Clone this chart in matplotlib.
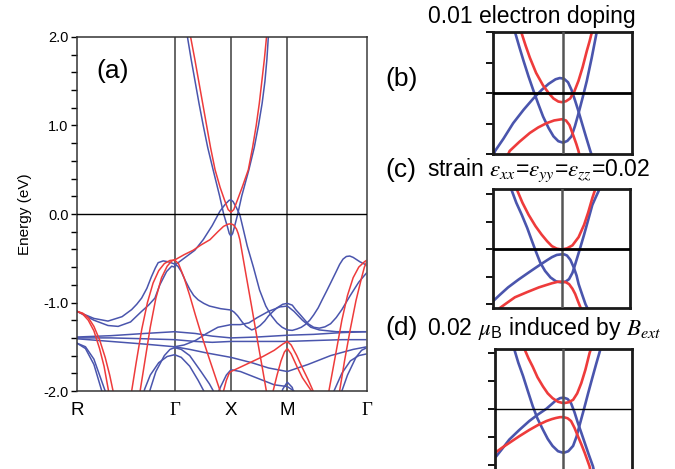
import matplotlib
matplotlib.use('Agg')
import matplotlib.pyplot as plt

plt.rcParams['font.family'] = ['Liberation Sans', 'DejaVu Sans']
plt.rcParams['mathtext.fontset'] = 'stix'

RED = '#ee3b3b'
BLUE = '#4a55ad'

# ---------------- panel (a) : path and ticks ----------------
k_ticks = [0.0, 1.732, 2.732, 3.732, 5.146]
k_labels = ['R', 'Γ', 'X', 'M', 'Γ']
y_ticks = [-2.0, -1.0, 0.0, 1.0, 2.0]
y_tick_labels = ['-2.0', '-1.0', '0.0', '1.0', '2.0']

# ---------------- panel (a) : red bands (k, E) ----------------
red_R1 = [(0, -1.10), (0.1, -1.13), (0.2, -1.20), (0.3, -1.32), (0.4, -1.52), (0.48, -1.72), (0.56, -2.0), (0.6, -2.15)]
red_R2 = [(0, -1.10), (0.1, -1.12), (0.2, -1.17), (0.3, -1.27), (0.4, -1.42), (0.5, -1.62), (0.58, -1.82), (0.64, -2.0), (0.67, -2.1)]
red_RG1 = [(0.94, -2.1), (0.97, -2.0), (1.05, -1.68), (1.15, -1.30), (1.25, -1.0), (1.35, -0.78), (1.45, -0.64), (1.55, -0.56),
           (1.65, -0.525), (1.732, -0.52)]
red_RG2 = [(1.10, -2.1), (1.12, -2.0), (1.2, -1.68), (1.3, -1.28), (1.4, -0.95), (1.5, -0.72), (1.6, -0.59), (1.68, -0.53), (1.732, -0.52)]
red_val = [(1.732, -0.52), (1.9, -0.46), (2.06, -0.41), (2.2, -0.35), (2.36, -0.29), (2.5, -0.20), (2.6, -0.14),
           (2.68, -0.115), (2.732, -0.11), (2.78, -0.125), (2.83, -0.17), (2.86, -0.22), (2.89, -0.29), (3.0, -0.69),
           (3.1, -1.05), (3.2, -1.42), (3.3, -1.78), (3.36, -2.0), (3.39, -2.1)]
red_GX = [(1.732, -0.52), (1.8, -0.56), (1.9, -0.72), (2.0, -0.92), (2.1, -1.14), (2.2, -1.35), (2.35, -1.64), (2.54, -2.0), (2.59, -2.1)]
red_cond = [(1.98, 2.1), (2.016, 2.0), (2.09, 1.75), (2.16, 1.5), (2.23, 1.25), (2.30, 1.0), (2.37, 0.75), (2.45, 0.5),
            (2.54, 0.3), (2.622, 0.15), (2.682, 0.05), (2.732, 0.02), (2.782, 0.05), (2.842, 0.15), (2.93, 0.3), (3.04, 0.5),
            (3.115, 0.75), (3.18, 1.0), (3.235, 1.25), (3.28, 1.5), (3.325, 1.75), (3.363, 2.0), (3.38, 2.1)]
red_XM = [(2.56, -2.1), (2.6, -2.0), (2.65, -1.88), (2.7, -1.80), (2.732, -1.78), (2.9, -1.73), (3.1, -1.67), (3.3, -1.61),
          (3.5, -1.54), (3.65, -1.47), (3.732, -1.44), (3.8, -1.48), (3.9, -1.60), (4.0, -1.74), (4.1, -1.87), (4.19, -2.0), (4.22, -2.1)]
red_M = [(3.45, -2.1), (3.48, -2.0), (3.55, -1.82), (3.62, -1.66), (3.68, -1.56), (3.732, -1.52), (3.8, -1.58), (3.9, -1.72),
         (4.0, -1.85), (4.16, -2.0), (4.2, -2.1)]
red_MG1 = [(4.44, -2.1), (4.47, -2.0), (4.6, -1.55), (4.7, -1.20), (4.8, -0.92), (4.9, -0.72), (5.0, -0.60), (5.1, -0.54), (5.146, -0.52)]
red_MG2 = [(4.63, -2.1), (4.66, -2.0), (4.75, -1.65), (4.85, -1.30), (4.95, -0.98), (5.05, -0.72), (5.1, -0.60), (5.146, -0.53)]

# ---------------- panel (a) : blue bands (k, E) ----------------
blue_RA = [(0, -1.10), (0.3, -1.18), (0.55, -1.21), (0.8, -1.16), (0.97, -1.08), (1.06, -1.02), (1.147, -0.95), (1.24, -0.84),
           (1.32, -0.71), (1.39, -0.61), (1.44, -0.55), (1.53, -0.53), (1.62, -0.54), (1.732, -0.565)]
blue_RB = [(0, -1.10), (0.3, -1.20), (0.55, -1.26), (0.73, -1.27), (0.95, -1.22), (1.147, -1.10), (1.27, -1.03), (1.383, -0.95),
           (1.47, -0.80), (1.59, -0.65), (1.68, -0.59), (1.732, -0.60)]
blue_Rd1 = [(0, -1.46), (0.15, -1.52), (0.3, -1.70), (0.44, -2.0), (0.47, -2.1)]
blue_Rd2 = [(0, -1.46), (0.15, -1.50), (0.3, -1.64), (0.4, -1.82), (0.50, -2.0), (0.53, -2.1)]
blue_val = [(1.732, -0.58), (1.9, -0.50), (2.09, -0.41), (2.24, -0.29), (2.4, -0.13), (2.535, 0.03), (2.63, 0.11), (2.70, 0.155),
            (2.732, 0.16), (2.77, 0.14), (2.83, 0.07), (2.89, -0.01), (2.95, -0.17), (3.02, -0.36), (3.13, -0.60), (3.24, -0.86),
            (3.35, -1.04), (3.45, -1.15), (3.55, -1.23), (3.64, -1.28), (3.732, -1.31), (3.82, -1.315), (3.9, -1.30), (3.98, -1.28),
            (4.05, -1.25), (4.13, -1.20), (4.2, -1.14), (4.28, -1.06), (4.35, -0.97), (4.43, -0.87), (4.5, -0.78), (4.6, -0.65),
            (4.66, -0.57), (4.72, -0.51), (4.78, -0.48), (4.84, -0.475), (4.9, -0.49), (5.02, -0.54), (5.146, -0.58)]
blue_cond = [(1.945, 2.1), (1.96, 2.0), (2.025, 1.75), (2.095, 1.5), (2.165, 1.25), (2.24, 1.0), (2.32, 0.75), (2.415, 0.5),
             (2.532, 0.2), (2.602, 0.0), (2.672, -0.15), (2.702, -0.22), (2.732, -0.25), (2.762, -0.22), (2.792, -0.15),
             (2.852, 0.0), (2.922, 0.2), (3.05, 0.5), (3.145, 0.75), (3.22, 1.0), (3.285, 1.25), (3.335, 1.5), (3.37, 1.75),
             (3.395, 2.0), (3.405, 2.1)]
blue_GXM = [(1.732, -0.57), (1.79, -0.59), (1.85, -0.65), (1.92, -0.75), (2.0, -0.85), (2.07, -0.92), (2.15, -0.97), (2.25, -1.01),
            (2.35, -1.04), (2.55, -1.07), (2.732, -1.085), (2.79, -1.11), (2.85, -1.15), (2.93, -1.22), (3.0, -1.27), (3.1, -1.31),
            (3.18, -1.29), (3.25, -1.26), (3.33, -1.21), (3.4, -1.15), (3.48, -1.10), (3.55, -1.06), (3.65, -1.02), (3.732, -1.01),
            (3.82, -1.03), (3.88, -1.08), (3.95, -1.13), (4.1, -1.24), (4.2, -1.28), (4.3, -1.29), (4.4, -1.275), (4.5, -1.24),
            (4.6, -1.17), (4.7, -1.08), (4.85, -0.92), (5.0, -0.77), (5.146, -0.66)]
blue_XM2 = [(1.732, -1.50), (1.9, -1.48), (2.1, -1.43), (2.3, -1.35), (2.5, -1.28), (2.732, -1.25), (2.9, -1.25), (3.05, -1.23),
            (3.2, -1.17), (3.4, -1.10), (3.6, -1.05), (3.732, -1.04), (3.85, -1.10), (4.0, -1.20), (4.15, -1.28), (4.3, -1.31),
            (4.6, -1.33), (5.146, -1.33)]
blue_F1 = [(0, -1.39), (0.6, -1.375), (1.2, -1.35), (1.732, -1.33), (2.1, -1.35), (2.4, -1.38), (2.732, -1.40), (3.2, -1.39),
           (3.732, -1.37), (4.2, -1.36), (4.7, -1.34), (5.146, -1.33)]
blue_F2 = [(0, -1.40), (0.6, -1.40), (1.2, -1.41), (1.732, -1.42), (2.1, -1.44), (2.4, -1.45), (2.732, -1.44), (3.2, -1.44),
           (3.732, -1.44), (4.2, -1.43), (4.7, -1.42), (5.146, -1.42)]
blue_F3 = [(0, -1.41), (0.4, -1.43), (0.8, -1.45), (1.2, -1.47), (1.732, -1.50), (2.0, -1.53), (2.3, -1.57), (2.732, -1.62),
           (3.1, -1.68), (3.4, -1.74), (3.732, -1.78), (4.1, -1.70), (4.5, -1.60), (4.9, -1.53), (5.146, -1.50)]
blue_C = [(1.15, -2.1), (1.2, -1.98), (1.3, -1.82), (1.45, -1.68), (1.6, -1.61), (1.732, -1.59), (1.85, -1.62), (2.0, -1.72),
          (2.15, -1.88), (2.25, -2.0), (2.3, -2.08)]
blue_D = [(1.25, -2.1), (1.3, -1.98), (1.4, -1.78), (1.55, -1.60), (1.65, -1.53), (1.732, -1.51), (1.85, -1.53), (2.0, -1.60),
          (2.2, -1.78), (2.35, -1.92), (2.42, -2.0), (2.47, -2.08)]
blue_E = [(4.5, -2.1), (4.56, -2.0), (4.7, -1.80), (4.85, -1.66), (5.0, -1.60), (5.146, -1.58)]
blue_F = [(4.65, -2.1), (4.7, -2.0), (4.8, -1.82), (4.95, -1.62), (5.05, -1.54), (5.146, -1.51)]
blue_XM4 = [(2.45, -2.1), (2.55, -1.95), (2.65, -1.82), (2.732, -1.76), (2.9, -1.78), (3.1, -1.83), (3.3, -1.88), (3.5, -1.93),
            (3.732, -1.95), (3.85, -2.0), (3.9, -2.1)]
blue_H = [(3.6, -2.1), (3.65, -1.98), (3.732, -1.90), (3.82, -1.96), (3.88, -2.1)]

red_bands = [red_R1, red_R2, red_RG1, red_RG2, red_val, red_GX, red_cond, red_XM, red_M, red_MG1, red_MG2]
blue_bands = [blue_RA, blue_RB, blue_Rd1, blue_Rd2, blue_val, blue_cond, blue_GXM, blue_XM2, blue_F1, blue_F2, blue_F3,
              blue_C, blue_D, blue_E, blue_F, blue_XM4, blue_H]

# ---------------- panels (b), (c), (d) : bands near X ----------------
b_red_c = [(-0.62, 0.23), (-0.59, 0.197), (-0.53, 0.155), (-0.47, 0.116), (-0.38, 0.066), (-0.28, 0.025), (-0.2, 0.0),
           (-0.13, -0.018), (-0.06, -0.028), (-0.01, -0.03), (0.05, -0.027), (0.11, -0.018), (0.17, 0.005), (0.23, 0.04),
           (0.29, 0.085), (0.35, 0.138), (0.39, 0.17), (0.42, 0.197), (0.44, 0.23)]
b_blue_c = [(-0.70, 0.23), (-0.68, 0.197), (-0.62, 0.15), (-0.56, 0.105), (-0.49, 0.055), (-0.42, 0.009), (-0.35, -0.035),
            (-0.28, -0.077), (-0.2, -0.115), (-0.13, -0.142), (-0.06, -0.158), (0.01, -0.163), (0.07, -0.157), (0.13, -0.142),
            (0.18, -0.108), (0.23, -0.067), (0.29, -0.015), (0.35, 0.04), (0.42, 0.115), (0.49, 0.197), (0.51, 0.23)]
b_blue_v = [(-1.0, -0.21), (-0.97, -0.19), (-0.85, -0.15), (-0.71, -0.099), (-0.56, -0.055), (-0.42, -0.018), (-0.3, 0.01),
            (-0.2, 0.03), (-0.1, 0.045), (-0.04, 0.049), (0.02, 0.047), (0.08, 0.035), (0.13, 0.01), (0.18, -0.024),
            (0.23, -0.06), (0.28, -0.099), (0.34, -0.145), (0.40, -0.19), (0.43, -0.21)]
b_red_v = [(-0.80, -0.21), (-0.76, -0.19), (-0.62, -0.16), (-0.47, -0.131), (-0.35, -0.113), (-0.23, -0.099), (-0.12, -0.09),
           (-0.01, -0.086), (0.05, -0.09), (0.1, -0.105), (0.16, -0.142), (0.2, -0.168), (0.23, -0.19), (0.25, -0.21)]

c_red_c = [(-0.68, 0.24), (-0.65, 0.217), (-0.57, 0.17), (-0.48, 0.126), (-0.38, 0.085), (-0.29, 0.054), (-0.21, 0.03),
           (-0.14, 0.012), (-0.07, 0.003), (0.0, 0.0), (0.08, 0.004), (0.16, 0.015), (0.25, 0.045), (0.33, 0.09), (0.39, 0.135),
           (0.45, 0.187), (0.49, 0.217), (0.51, 0.24)]
c_blue_c = [(-0.75, 0.24), (-0.73, 0.217), (-0.66, 0.17), (-0.58, 0.126), (-0.5, 0.078), (-0.43, 0.03), (-0.37, -0.01),
            (-0.31, -0.048), (-0.24, -0.078), (-0.16, -0.102), (-0.08, -0.116), (0.0, -0.12), (0.06, -0.117), (0.11, -0.108),
            (0.16, -0.085), (0.2, -0.054), (0.26, -0.005), (0.33, 0.054), (0.39, 0.108), (0.45, 0.162), (0.5, 0.19),
            (0.55, 0.217), (0.57, 0.24)]
c_blue_v = [(-1.05, -0.21), (-1.02, -0.193), (-0.9, -0.165), (-0.78, -0.138), (-0.63, -0.11), (-0.48, -0.084), (-0.38, -0.067),
            (-0.29, -0.052), (-0.21, -0.039), (-0.14, -0.028), (-0.07, -0.02), (-0.01, -0.018), (0.04, -0.018), (0.08, -0.022),
            (0.13, -0.038), (0.18, -0.066), (0.22, -0.095), (0.25, -0.126), (0.3, -0.163), (0.35, -0.199), (0.4, -0.225)]
c_red_v = [(-0.95, -0.225), (-0.9, -0.213), (-0.8, -0.195), (-0.68, -0.174), (-0.5, -0.155), (-0.33, -0.138), (-0.23, -0.13),
           (-0.14, -0.123), (-0.06, -0.118), (0.0, -0.117), (0.06, -0.119), (0.11, -0.126), (0.16, -0.143), (0.2, -0.162),
           (0.24, -0.188), (0.28, -0.213), (0.3, -0.225)]

d_red_c = [(-0.6, 0.24), (-0.57, 0.214), (-0.51, 0.18), (-0.45, 0.151), (-0.38, 0.113), (-0.3, 0.08), (-0.23, 0.055),
           (-0.16, 0.038), (-0.08, 0.025), (0.0, 0.02), (0.07, 0.023), (0.14, 0.032), (0.2, 0.055), (0.26, 0.092), (0.32, 0.14),
           (0.38, 0.199), (0.40, 0.214), (0.42, 0.24)]
d_blue_c = [(-0.75, 0.24), (-0.72, 0.214), (-0.66, 0.165), (-0.59, 0.117), (-0.52, 0.063), (-0.45, 0.01), (-0.38, -0.035),
            (-0.3, -0.075), (-0.23, -0.108), (-0.16, -0.133), (-0.08, -0.152), (0.0, -0.158), (0.07, -0.152), (0.14, -0.133),
            (0.19, -0.1), (0.23, -0.063), (0.3, 0.0), (0.36, 0.056), (0.42, 0.11), (0.48, 0.163), (0.54, 0.214), (0.56, 0.24)]
d_blue_v = [(-1.05, -0.19), (-1.0, -0.176), (-0.9, -0.145), (-0.79, -0.11), (-0.65, -0.077), (-0.5, -0.044), (-0.37, -0.02),
            (-0.25, 0.0), (-0.17, 0.017), (-0.11, 0.03), (-0.05, 0.038), (0.0, 0.04), (0.06, 0.035), (0.11, 0.02), (0.16, -0.012),
            (0.21, -0.051), (0.26, -0.086), (0.31, -0.122), (0.37, -0.165), (0.43, -0.206), (0.46, -0.24)]
d_red_v = [(-1.05, -0.168), (-1.0, -0.158), (-0.9, -0.14), (-0.79, -0.122), (-0.65, -0.099), (-0.5, -0.076), (-0.37, -0.058),
           (-0.25, -0.044), (-0.17, -0.037), (-0.11, -0.033), (-0.05, -0.03), (0.0, -0.030), (0.06, -0.034), (0.11, -0.044),
           (0.16, -0.068), (0.21, -0.098), (0.26, -0.127), (0.31, -0.158), (0.38, -0.206), (0.41, -0.24)]

small_ticks = [-0.2, -0.1, 0.0, 0.1, 0.2]


def draw(ax, pts, color, lw):
    ax.plot([p[0] for p in pts], [p[1] for p in pts], color=color, lw=lw, solid_capstyle='round',
            solid_joinstyle='round')


W, H = 675, 469
fig = plt.figure(figsize=(W / 100, H / 100), dpi=100)


def frac(l, t, r, b):
    return [l / W, 1 - b / H, (r - l) / W, (b - t) / H]


# ---- main panel (a)
ax = fig.add_axes(frac(77, 37, 367, 391))
for pts in blue_bands:
    draw(ax, pts, BLUE, 1.1)
for pts in red_bands:
    draw(ax, pts, RED, 1.1)
for kv in k_ticks[1:4]:
    ax.axvline(kv, color='#5a5a5a', lw=1.3, zorder=1)
ax.axhline(0.0, color='black', lw=1.0, zorder=3)
ax.set_xlim(k_ticks[0], k_ticks[-1])
ax.set_ylim(-2.0, 2.0)
ax.set_yticks(y_ticks)
ax.set_yticklabels(y_tick_labels, fontsize=10.5)
ax.set_yticks([v / 10 for v in range(-20, 21, 2)], minor=True)
ax.tick_params(axis='y', which='major', direction='out', length=4, width=1, pad=2)
ax.tick_params(axis='y', which='minor', direction='out', length=4, width=1)
ax.set_xticks(k_ticks)
ax.set_xticklabels([])
ax.tick_params(axis='x', length=0)
for kv, lab in zip(k_ticks, k_labels):
    fam = ['Liberation Serif'] if lab == 'Γ' else ['Liberation Sans']
    ax.text(kv, -2.12, lab, ha='center', va='top', fontsize=13.5, family=fam)
for s in ['left', 'top', 'bottom']:
    ax.spines[s].set_color('#333333')
    ax.spines[s].set_linewidth(1.1)
ax.spines['right'].set_color('#5a5a5a')
ax.spines['right'].set_linewidth(1.3)
ax.set_ylabel('Energy (eV)', fontsize=11, labelpad=8)
ax.text(0.068, 0.905, '(a)', transform=ax.transAxes, fontsize=19, ha='left', va='center')


def small_panel(rect, bands, zero_lw, ylim):
    a = fig.add_axes(rect)
    for pts, col in bands:
        draw(a, pts, col, 1.9)
    a.axvline(0.0, color='#555555', lw=1.8, zorder=3)
    a.axhline(0.0, color='black', lw=zero_lw, zorder=3)
    a.set_xlim(-1.0, 1.0)
    a.set_ylim(*ylim)
    a.set_xticks([])
    a.set_yticks(small_ticks)
    a.set_yticklabels([])
    a.tick_params(axis='y', direction='out', length=5, width=1.3)
    for s in a.spines.values():
        s.set_linewidth(2.0)
        s.set_color('#1a1a1a')
    return a


small_panel(frac(493, 32, 632, 154), [(b_blue_c, BLUE), (b_blue_v, BLUE), (b_red_c, RED), (b_red_v, RED)], 2.0, (-0.195, 0.2))
small_panel(frac(493, 189, 630, 308), [(c_blue_c, BLUE), (c_blue_v, BLUE), (c_red_c, RED), (c_red_v, RED)], 2.0, (-0.213, 0.22))
small_panel(frac(495, 349, 632, 473), [(d_blue_c, BLUE), (d_blue_v, BLUE), (d_red_c, RED), (d_red_v, RED)], 1.0, (-0.23, 0.214))

fig.text(532 / W, 1 - 17 / H, '0.01 electron doping', fontsize=16.5, ha='center', va='center')
fig.text(385 / W, 1 - 79 / H, '(b)', fontsize=19, ha='left', va='center')
fig.text(385 / W, 1 - 170 / H, '(c)', fontsize=19, ha='left', va='center')
fig.text(427 / W, 1 - 170 / H,
         r'strain $\varepsilon_{xx}$=$\varepsilon_{yy}$=$\varepsilon_{zz}$=0.02', fontsize=16.6, ha='left', va='center')
fig.text(385 / W, 1 - 328 / H, '(d)', fontsize=19, ha='left', va='center')
fig.text(427 / W, 1 - 328 / H, r'0.02 $\mu_{\mathregular{B}}$ induced by $B_{ext}$', fontsize=16.6, ha='left', va='center')

fig.savefig('out.png', dpi=100)
